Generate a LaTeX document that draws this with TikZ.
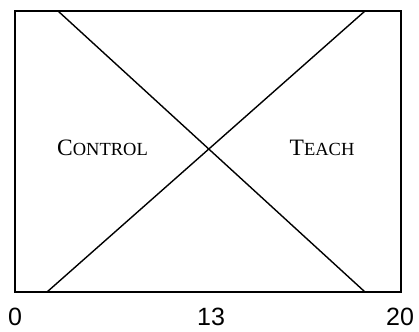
\documentclass[tikz,border=0pt]{standalone}
\usepackage{fontspec}
\setmainfont{Liberation Serif}
\newfontfamily\axisfont{Liberation Sans}
\tikzset{
  frameline/.style={draw=black, line width=1.5pt},
  crossline/.style={draw=black, line width=1.4pt},
  ticklabel/.style={font=\axisfont\fontsize{25}{25}\selectfont, inner sep=0pt, anchor=base},
  regionlabel/.style={font=\fontsize{23.5}{23.5}\selectfont, inner sep=0pt, anchor=base}
}
\newcommand{\smallpart}[1]{{\fontsize{18.5}{18.5}\selectfont #1}}
\begin{document}
\begin{tikzpicture}[x=1pt,y=-1pt]
\useasboundingbox (0,0) rectangle (419,331);
\coordinate (tl) at (15,11);
\coordinate (br) at (401,292);
\coordinate (a1) at (58,11);
\coordinate (a2) at (365,292);
\coordinate (b1) at (47,292);
\coordinate (b2) at (365,11);
\draw[frameline] (tl) rectangle (br);
\draw[crossline] (a1) -- (a2);
\draw[crossline] (b1) -- (b2);
\node[regionlabel] (control) at (102.5,155) {C\smallpart{ONTROL}};
\node[regionlabel] (teach) at (322,155) {T\smallpart{EACH}};
\node[ticklabel] (l0) at (15,325) {0};
\node[ticklabel] (l13) at (211,325) {13};
\node[ticklabel] (l20) at (400,325) {20};
\end{tikzpicture}
\end{document}
